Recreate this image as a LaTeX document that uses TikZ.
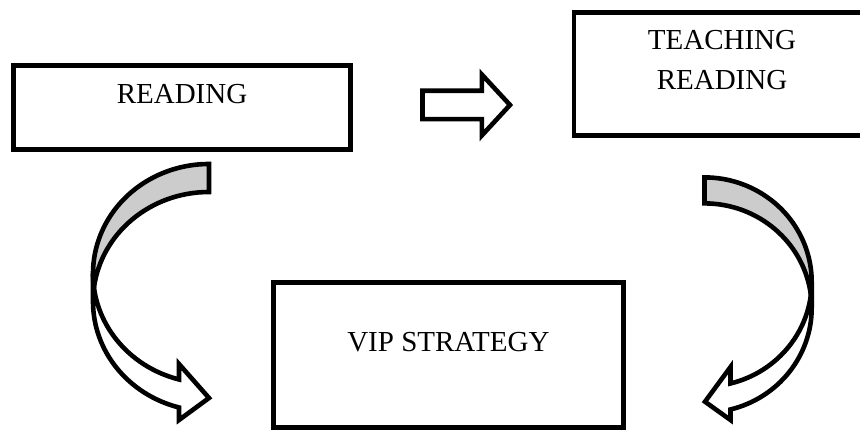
\documentclass[tikz,border=0pt]{standalone}
\usepackage{fontspec}
\setmainfont{Liberation Serif}
\usetikzlibrary{calc}
\begin{document}
\begin{tikzpicture}[x=1pt,y=1pt,
  box/.style={draw=black, line width=4.8pt, rectangle, inner sep=0pt, fill=white},
  lbl/.style={font=\fontsize{29}{34}\selectfont, anchor=base, inner sep=0pt},
  shapeline/.style={draw=black, line width=4.6pt, line join=miter, miter limit=10},
  backband/.style={shapeline, fill=black!20},
  frontband/.style={shapeline, fill=white}
]
\useasboundingbox (0,0) rectangle (860,430);
\clip (0,0) rectangle (860,430);

% boxes
\node[box, minimum width=337.2pt, minimum height=84.2pt] (readbox) at (182.1,322.4) {};
\node[box, minimum width=300pt, minimum height=123.3pt] (teachbox) at (724,355.85) {};
\node[box, minimum width=350.2pt, minimum height=145pt] (vipbox) at (448.4,75) {};

% texts
\node[lbl] (readtxt) at (182,326.7) {READING};
\node[lbl] (teachtxt1) at (722,380) {TEACHING};
\node[lbl] (teachtxt2) at (722,340) {READING};
\node[lbl] (viptxt) at (448.4,78) {VIP STRATEGY};

% block right arrow
\draw[frontband] (422.5,310.8) -- (422.5,339.2) -- (481.8,339.2) -- (481.8,355.5)
  -- (510,325) -- (481.8,294.5) -- (481.8,310.8) -- cycle;

% left curved arrow
\coordinate (LA) at (209,156.4);
\coordinate (LB) at (209,128.4);
\draw[frontband] ($(LA)+(180:116pt and 109.6pt)$)
  arc[start angle=180, end angle=255, x radius=116pt, y radius=109.6pt]
  -- (179,66) -- (209,32) -- (179,10)
  -- ($(LB)+(255:116pt and 109.6pt)$)
  arc[start angle=255, end angle=180, x radius=116pt, y radius=109.6pt] -- cycle;
\draw[backband] ($(LB)+(90:116pt and 109.6pt)$)
  arc[start angle=90, end angle=172.66, x radius=116pt, y radius=109.6pt]
  arc[start angle=187.34, end angle=90, x radius=116pt, y radius=109.6pt] -- cycle;

% right curved arrow
\coordinate (RA) at (704.5,148);
\coordinate (RB) at (704.5,122);
\draw[frontband] ($(RA)+(0:107.2pt and 104.6pt)$)
  arc[start angle=0, end angle=-75.96, x radius=107.2pt, y radius=104.6pt]
  -- (730.5,63) -- (705,28.3) -- (730.5,10)
  -- ($(RB)+(-75.96:107.2pt and 104.6pt)$)
  arc[start angle=-75.96, end angle=0, x radius=107.2pt, y radius=104.6pt] -- cycle;
\draw[backband] ($(RB)+(90:107.2pt and 104.6pt)$)
  arc[start angle=90, end angle=7.14, x radius=107.2pt, y radius=104.6pt]
  arc[start angle=-7.14, end angle=90, x radius=107.2pt, y radius=104.6pt] -- cycle;
\end{tikzpicture}
\end{document}
